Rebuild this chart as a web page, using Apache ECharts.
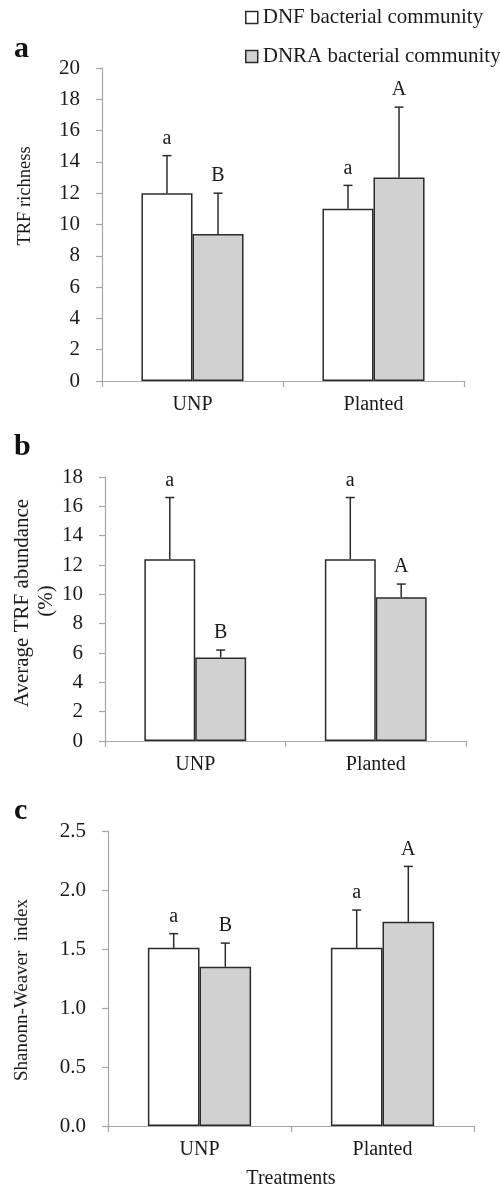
<!DOCTYPE html>
<html>
<head>
<meta charset="utf-8">
<title>TRF richness, abundance and diversity</title>
<script src="https://cdn.jsdelivr.net/npm/echarts@6/dist/echarts.min.js"></script>
<style>
    html, body { margin: 0; padding: 0; background: #fff; }
    #main { width: 500px; height: 1188px; }
</style>
</head>
<body>
<div id="main"></div>
<script>
//数据
var categories = ['UNP', 'Planted'];
var seriesNames = ['DNF bacterial community', 'DNRA bacterial community'];

//a: TRF richness
var richDNF = [12.0, 11.0];
var richDNFErr = [2.4, 1.5];
var richDNRA = [9.4, 13.0];
var richDNRAErr = [2.6, 4.5];

//b: Average TRF abundance (%)
var abundDNF = [12.4, 12.4];
var abundDNFErr = [4.2, 4.2];
var abundDNRA = [5.7, 9.8];
var abundDNRAErr = [0.5, 0.9];

//c: Shanonn-Weaver index
var shanDNF = [1.51, 1.51];
var shanDNFErr = [0.12, 0.32];
var shanDNRA = [1.35, 1.73];
var shanDNRAErr = [0.20, 0.47];

//显著性字母
var dnfLetters = ['a', 'a'];
var dnraLetters = ['B', 'A'];

var FONT = 'Liberation Serif';
var TXT = '#1a1a1a';
var AXIS = '#a6a6a6';
var EDGE = '#2b2b2b';
var GREY = '#d0d1d0';
var BAR_W = 0.282;

var chart = echarts.init(document.getElementById('main'));

//误差线 + 字母（custom series）
function errorSeries(idx, means, errs, letters, side) {
    var data = [];
    for (var i = 0; i < means.length; i++) {
        data.push([i, means[i], errs[i], letters[i]]);
    }
    return {
        type: 'custom',
        xAxisIndex: idx,
        yAxisIndex: idx,
        silent: true,
        z: 5,
        data: data,
        renderItem: function (params, api) {
            var c = api.value(0);
            var m = api.value(1);
            var e = api.value(2);
            var bw = api.size([1, 0])[0] * BAR_W;
            var base = api.coord([c, m]);
            var top = api.coord([c, m + e]);
            var x = base[0] + side * bw / 2;
            var cap = 4.5;
            return {
                type: 'group',
                children: [{
                    type: 'line',
                    shape: { x1: x, y1: base[1], x2: x, y2: top[1] },
                    style: { stroke: EDGE, lineWidth: 1.5 }
                }, {
                    type: 'line',
                    shape: { x1: x - cap, y1: top[1], x2: x + cap, y2: top[1] },
                    style: { stroke: EDGE, lineWidth: 1.5 }
                }, {
                    type: 'text',
                    x: x,
                    y: top[1] - 17,
                    style: {
                        text: data[params.dataIndex][3],
                        fill: TXT,
                        font: '20px "' + FONT + '"',
                        textAlign: 'center',
                        textVerticalAlign: 'middle'
                    }
                }]
            };
        }
    };
}

function barSeries(idx, name, values, fill) {
    return {
        type: 'bar',
        name: name,
        xAxisIndex: idx,
        yAxisIndex: idx,
        barWidth: (BAR_W * 100) + '%',
        barGap: '0%',
        itemStyle: { color: fill, borderColor: EDGE, borderWidth: 1.5 },
        data: values
    };
}

function xAxisCfg(idx) {
    return {
        type: 'category',
        gridIndex: idx,
        data: categories,
        axisLine: { lineStyle: { color: AXIS, width: 1.2 } },
        axisTick: { show: true, length: 6, lineStyle: { color: AXIS, width: 1.2 } },
        axisLabel: { color: TXT, fontFamily: FONT, fontSize: 20, margin: 14 },
        splitLine: { show: false }
    };
}

function yAxisCfg(idx, max, step, digits) {
    return {
        type: 'value',
        gridIndex: idx,
        min: 0,
        max: max,
        interval: step,
        axisLine: { show: true, lineStyle: { color: AXIS, width: 1.2 } },
        axisTick: { show: true, length: 6, lineStyle: { color: AXIS, width: 1.2 } },
        axisLabel: {
            color: TXT, fontFamily: FONT, fontSize: 21, margin: 22,
            formatter: function (v) { return v.toFixed(digits); }
        },
        splitLine: { show: false }
    };
}

function vText(x, y, text, size) {
    return {
        type: 'text',
        x: x,
        y: y,
        rotation: Math.PI / 2,
        style: {
            text: text,
            fill: TXT,
            font: size + 'px "' + FONT + '"',
            textAlign: 'center',
            textVerticalAlign: 'middle'
        }
    };
}

function panelTag(x, y, text) {
    return {
        type: 'text',
        x: x,
        y: y,
        style: {
            text: text,
            fill: '#111',
            font: 'bold 30px "' + FONT + '"',
            textAlign: 'left',
            textVerticalAlign: 'middle'
        }
    };
}

var option = {
    animation: false,
    backgroundColor: '#fff',
    legend: {
        left: 245,
        top: 7,
        padding: 0,
        orient: 'vertical',
        itemWidth: 12,
        itemHeight: 12,
        itemGap: 18,
        textStyle: { color: TXT, fontFamily: FONT, fontSize: 21 },
        data: [
            { name: seriesNames[0], icon: 'rect', itemStyle: { color: '#fff', borderColor: EDGE, borderWidth: 1.5 } },
            { name: seriesNames[1], icon: 'rect', itemStyle: { color: GREY, borderColor: EDGE, borderWidth: 1.5 } }
        ]
    },
    grid: [
        { left: 102, right: 36, top: 68, height: 313 },
        { left: 105, right: 34, top: 477, height: 264 },
        { left: 108, right: 26, top: 831, height: 295 }
    ],
    xAxis: [xAxisCfg(0), xAxisCfg(1), xAxisCfg(2)],
    yAxis: [yAxisCfg(0, 20, 2, 0), yAxisCfg(1, 18, 2, 0), yAxisCfg(2, 2.5, 0.5, 1)],
    graphic: [
        panelTag(14, 49, 'a'),
        panelTag(14, 447, 'b'),
        panelTag(14, 811, 'c'),
        vText(25, 196, 'TRF richness', 18.5),
        vText(22, 603, 'Average TRF abundance', 21),
        vText(46, 601, '(%)', 21),
        vText(22, 990, 'Shanonn-Weaver  index', 19),
        { type: 'text', x: 291, y: 1179, style: { text: 'Treatments', fill: TXT, font: '20px "' + FONT + '"', textAlign: 'center', textVerticalAlign: 'middle' } }
    ],
    series: [
        barSeries(0, seriesNames[0], richDNF, '#fff'),
        barSeries(0, seriesNames[1], richDNRA, GREY),
        errorSeries(0, richDNF, richDNFErr, dnfLetters, -1),
        errorSeries(0, richDNRA, richDNRAErr, dnraLetters, 1),

        barSeries(1, seriesNames[0], abundDNF, '#fff'),
        barSeries(1, seriesNames[1], abundDNRA, GREY),
        errorSeries(1, abundDNF, abundDNFErr, dnfLetters, -1),
        errorSeries(1, abundDNRA, abundDNRAErr, dnraLetters, 1),

        barSeries(2, seriesNames[0], shanDNF, '#fff'),
        barSeries(2, seriesNames[1], shanDNRA, GREY),
        errorSeries(2, shanDNF, shanDNFErr, dnfLetters, -1),
        errorSeries(2, shanDNRA, shanDNRAErr, dnraLetters, 1)
    ]
};

chart.setOption(option);
</script>
</body>
</html>
